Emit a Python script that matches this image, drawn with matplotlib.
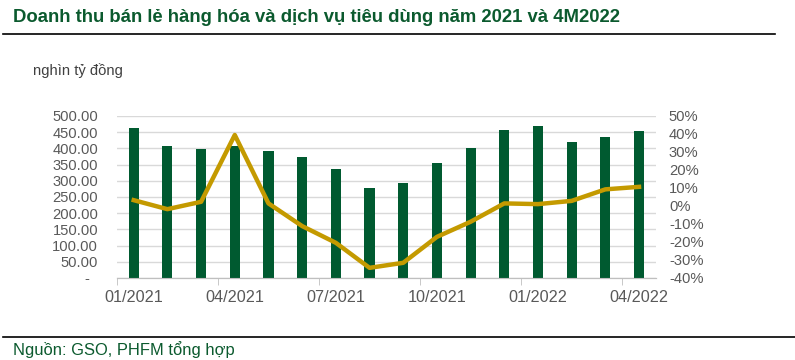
import matplotlib.pyplot as plt
import numpy as np
from matplotlib.ticker import FuncFormatter

months = ["01/2021", "02/2021", "03/2021", "04/2021", "05/2021", "06/2021",
          "07/2021", "08/2021", "09/2021", "10/2021", "11/2021", "12/2021",
          "01/2022", "02/2022", "03/2022", "04/2022"]
revenue = [463, 407, 398, 407, 392, 373, 336, 277, 293, 355, 401, 457, 469, 420, 435, 454]
growth = [3.2, -1.8, 2.3, 39.4, 1.4, -11.2, -20.5, -34.4, -31.6, -17.2, -8.8, 1.4, 1.0, 2.8, 9.2, 10.6]

green = "#005A30"
gold = "#C49A00"
grey = "#595959"

plt.rcParams['font.family'] = ['Liberation Sans', 'DejaVu Sans']

fig = plt.figure(figsize=(7.95, 3.6), dpi=100)
ax = fig.add_axes([0.147, 0.228, 0.678, 0.45])
ax2 = ax.twinx()

x = np.arange(len(months))
ax.bar(x, revenue, width=0.3, color=green, zorder=3)
ax2.plot(x, growth, color=gold, lw=3.2, solid_joinstyle='round', zorder=4)

ax.set_xlim(-0.5, len(months) - 0.5)
ax.set_ylim(0, 500)
ax.set_yticks(np.arange(0, 501, 50))
ax.yaxis.set_major_formatter(FuncFormatter(lambda v, p: "-  " if v == 0 else f"{v:.2f}"))
ax2.set_ylim(-40, 50)
ax2.set_yticks(np.arange(-40, 51, 10))
ax2.yaxis.set_major_formatter(FuncFormatter(lambda v, p: f"{v:.0f}%"))

ax.grid(axis='y', color="#D9D9D9", lw=1, zorder=0)
ax.set_axisbelow(True)

# labels on categories, tick marks between every 3 months
ax.set_xticks(x[::3])
ax.set_xticklabels(months[::3])
ax.set_xticks(np.arange(-0.5, len(months), 3), minor=True)
ax.tick_params(axis='x', which='major', length=0, pad=9, labelsize=11.7, colors=grey)
ax.tick_params(axis='x', which='minor', length=5, color="#BFBFBF")
ax.tick_params(axis='y', length=0, pad=13.5, labelsize=10.6, colors=grey)
ax2.tick_params(axis='y', length=0, pad=9.4, labelsize=10.6, colors=grey)

for a in (ax, ax2):
    for s in ("top", "left", "right"):
        a.spines[s].set_visible(False)
    a.spines["bottom"].set_color("#BFBFBF")

ax.set_zorder(ax2.get_zorder() - 1)
ax.patch.set_visible(False)
ax2.patch.set_visible(False)

fig.text(0.016, 0.952, "Doanh thu bán lẻ hàng hóa và dịch vụ tiêu dùng năm 2021 và 4M2022",
         fontsize=13.3, fontweight='bold', color="#0B5A2E", va='center', ha='left')
fig.add_artist(plt.Line2D([0.004, 0.975], [0.906, 0.906], color='black', lw=1.2))
fig.text(0.041, 0.805, "nghìn tỷ đồng", fontsize=10.6, color="#404040", va='center')
fig.add_artist(plt.Line2D([0.004, 1.0], [0.064, 0.064], color='black', lw=1.2))
fig.text(0.016, 0.030, "Nguồn: GSO, PHFM tổng hợp", fontsize=11.9, color="#0B5A2E", va='center')

fig.savefig("out.png", dpi=100)
